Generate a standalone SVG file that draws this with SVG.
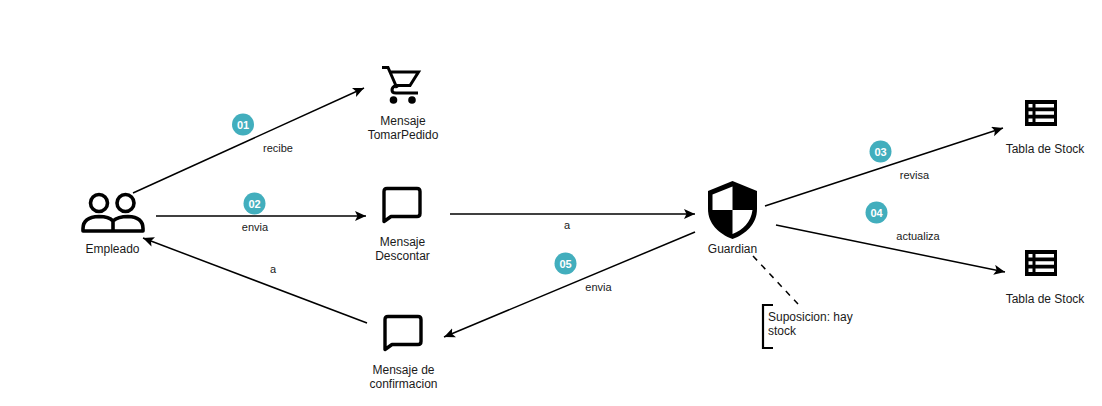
<svg xmlns="http://www.w3.org/2000/svg" width="1102" height="406" viewBox="0 0 1102 406">
<style>
text{font-family:"Liberation Sans",Arial,sans-serif;fill:#1a1a1a}
.n{font-size:12px;text-anchor:middle}
.s{font-size:12px;text-anchor:start}
.l{font-size:11px;text-anchor:middle}
.b{font-size:11px;font-weight:bold;text-anchor:middle;fill:#fff}
.c{fill:#42aebd}
.e{fill:none;stroke:#000;stroke-width:1.5}
.d{fill:none;stroke:#000;stroke-width:1.5;stroke-dasharray:6 6}
.k{fill:none;stroke:#000;stroke-width:2.2}
.i{fill:none;stroke:#000;stroke-width:3.6}
.t{fill:none;stroke:#000;stroke-width:3}
</style>
<defs>
<marker id="a" markerUnits="userSpaceOnUse" markerWidth="13" markerHeight="11" refX="11" refY="5" orient="auto"><path d="M0 0L11 5L0 10L2.500 5Z" fill="#000"/></marker>
<path id="bubble" d="M0 33V3Q0 0 3 0H33Q36 0 36 3V25Q36 28 33 28H7Z" fill="none" stroke="#000" stroke-width="3.400" stroke-linejoin="round"/>
<g id="table"><rect x="0" y="0" width="32" height="26" fill="#000"/><path fill="#fff" d="M3.500 4h4v3.500h-4zM10.500 4h18.500v3.500h-18.500zM3.500 11.200h4v3.600h-4zM10.500 11.200h18.500v3.600h-18.500zM3.500 18.500h4v3.500h-4zM10.500 18.500h18.500v3.500h-18.500z"/></g>
</defs>
<g id="connectors">
<path class="e" marker-end="url(#a)" d="M133 193L364 88"/>
<path class="e" marker-end="url(#a)" d="M156 216L366 216"/>
<path class="e" marker-end="url(#a)" d="M450 214L695 214"/>
<path class="e" marker-end="url(#a)" d="M695 232L444 337"/>
<path class="e" marker-end="url(#a)" d="M367 323L143 238"/>
<path class="e" marker-end="url(#a)" d="M765 206L1003 128"/>
<path class="e" marker-end="url(#a)" d="M776 225L1005 272"/>
<path class="d" d="M753 256L798 304"/>
</g>
<g id="labels">
<circle class="c" cx="243" cy="124.500" r="11"/><text class="b" x="243" y="128.500">01</text>
<text class="l" x="278" y="152">recibe</text>
<circle class="c" cx="254.500" cy="203.500" r="11"/><text class="b" x="254.500" y="207.500">02</text>
<text class="l" x="255" y="231">envia</text>
<text class="l" x="567" y="229">a</text>
<circle class="c" cx="565.500" cy="263.500" r="11"/><text class="b" x="565.500" y="267.500">05</text>
<text class="l" x="598.500" y="291">envia</text>
<text class="l" x="273" y="273">a</text>
<circle class="c" cx="880.500" cy="151.500" r="11"/><text class="b" x="880.500" y="155.500">03</text>
<text class="l" x="914.500" y="179">revisa</text>
<circle class="c" cx="876.500" cy="212.500" r="11"/><text class="b" x="876.500" y="216.500">04</text>
<text class="l" x="918" y="240">actualiza</text>
</g>
<g id="empleado">
<circle class="i" cx="99" cy="203" r="8.500"/><circle class="i" cx="125.500" cy="203" r="8.500"/>
<path class="i" stroke-linejoin="round" d="M83 231V228.500Q83 217 99 216.500Q109 216.500 113 221Q118 216.500 128 216.500Q143 217 143 228.500V231ZM113 221V231"/>
<text class="n" x="112.500" y="253">Empleado</text>
</g>
<g id="tomarpedido">
<path class="t" d="M382 67.500H388L397 88M391 72H418.500L410 85.500H396Q392 87 392 90Q392 93 396 93H418"/>
<circle cx="393.500" cy="100" r="3.800" fill="#000"/><circle cx="412" cy="100" r="3.800" fill="#000"/>
<text class="n" x="403" y="125">Mensaje</text><text class="n" x="403" y="139">TomarPedido</text>
</g>
<g id="descontar">
<use href="#bubble" x="384" y="188.500"/>
<text class="n" x="402.500" y="246">Mensaje</text><text class="n" x="402.500" y="260">Descontar</text>
</g>
<g id="confirmacion">
<use href="#bubble" x="385" y="316.500"/>
<text class="n" x="403.500" y="374">Mensaje de</text><text class="n" x="403.500" y="388">confirmacion</text>
</g>
<g id="guardian">
<path fill="#000" d="M732.500 181L757 191V209C757 224 746 234 732.500 239C719 234 708 224 708 209V191Z"/>
<path fill="#fff" d="M732.500 186.500V210H712.500V194.500ZM732.500 210H752.500C751 222 743 230 732.500 234Z"/>
<text class="n" x="732.500" y="253">Guardian</text>
</g>
<g id="suposicion">
<path class="k" d="M773 305H763V348H773"/>
<text class="s" x="768" y="321">Suposicion: hay</text><text class="s" x="768" y="335">stock</text>
</g>
<g id="tabla1"><use href="#table" x="1025" y="100"/><text class="n" x="1045" y="153">Tabla de Stock</text></g>
<g id="tabla2"><use href="#table" x="1025" y="250"/><text class="n" x="1045" y="303">Tabla de Stock</text></g>
</svg>
